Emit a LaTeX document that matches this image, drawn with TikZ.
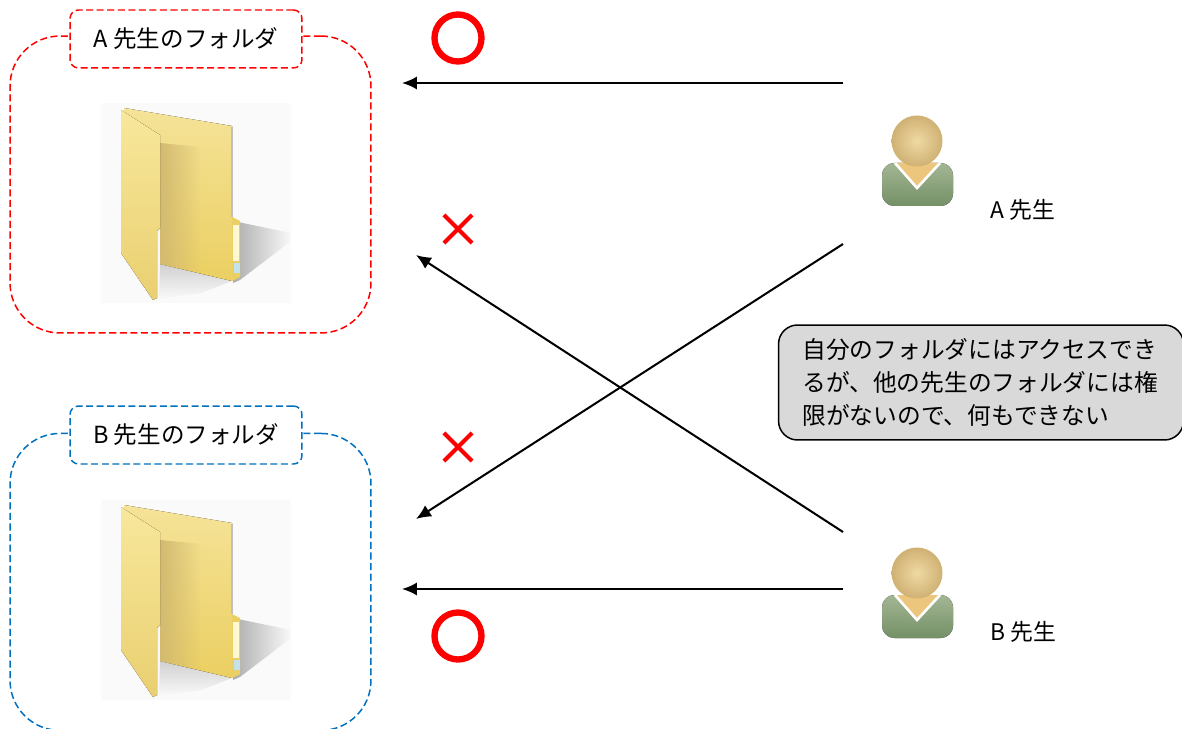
\documentclass[tikz,border=0pt]{standalone}
\usepackage{fontspec}
\setmainfont{Noto Sans CJK JP}
\usetikzlibrary{positioning}
\usetikzlibrary{arrows.meta,shapes.misc,fadings}
\definecolor{fred}{HTML}{FF0000}
\definecolor{fblue}{HTML}{0070C0}
\definecolor{callgray}{HTML}{D9D9D9}
\definecolor{foldtop}{HTML}{F5E398}
\definecolor{foldlow}{HTML}{EBCF62}
\definecolor{foldedge}{HTML}{D2BA70}
\definecolor{foldpale}{HTML}{FFF2A6}
\definecolor{foldupper}{HTML}{F8E89C}
\definecolor{foldfoot}{HTML}{E9CF70}
\definecolor{headin}{HTML}{F0D9A4}
\definecolor{headout}{HTML}{CFB173}
\definecolor{neck}{HTML}{EDC67E}
\definecolor{shirttop}{HTML}{A3B693}
\definecolor{shirtlow}{HTML}{749066}
\tikzset{line/.style={draw, line width=1.15pt, -{Latex[length=8.5pt,width=7.5pt]}}}
\tikzset{
  pics/folder/.style={code={
    \fill [black!2] (0,0) rectangle (190,200);
    % shadow
    \fill [black!32, path fading=east] (132,118) -- (190,130) -- (190,138) -- (139,177) -- (132,180) -- cycle;
    \fill [black!18, path fading=south] (59,161) -- (131,178) -- (100,190) -- (58,196) -- cycle;
    % back
    \fill [top color=foldtop, bottom color=foldlow] (23,5) -- (131,23) -- (131,178) -- (59,161) -- (59,45) -- (23,20) -- cycle;
    \fill [foldedge, path fading=east] (59,40) -- (100,44) -- (100,170) -- (59,161) -- cycle;
    \draw [black!25, line width=.6pt] (131,24) -- (131,114);
    % tab
    \fill [foldlow] (131,114) -- (139,118) -- (139,174) -- (131,178) -- cycle;
    \fill [foldpale!50!white] (132,122) rectangle (138,158);
    \fill [black!30!cyan!25!white] (133,160) rectangle (139,170);
    % front
    \fill [top color=foldupper, middle color=foldpale, bottom color=foldfoot] (20,7) -- (59,32) -- (59,125) -- (56,128) -- (56,195) -- (52,197) -- (20,150) -- cycle;
  }},
  pics/person/.style={code={
    \fill [rounded corners=7, top color=shirttop, bottom color=shirtlow] (-35,22) rectangle (36,65);
    \fill [neck] (-22,22) -- (0,47) -- (23,22) -- cycle;
    \draw [white, line width=1.5pt] (-22,22) -- (0,47) -- (23,22);
    \shade [inner color=headin, outer color=headout] (0,0) circle (25.5);
  }}
}
\begin{document}
\begin{tikzpicture}[x=0.02cm, y=-0.02cm]
\tikzstyle{folderbox} = [rectangle, rounded corners=1cm, dash pattern=on 4pt off 2pt, line width=.85pt, minimum width=7.22cm, minimum height=5.94cm, inner sep=0pt]
\tikzstyle{titlebox} = [rectangle, rounded corners=.17cm, fill=white, dash pattern=on 4pt off 2pt, line width=.85pt, minimum width=4.64cm, minimum height=1.16cm, font=\fontsize{13.4pt}{15pt}\selectfont]
\tikzstyle{okmark} = [circle, draw=fred, line width=3.6pt, minimum size=.94cm, inner sep=0pt]
\tikzstyle{ngmark} = [cross out, draw=fred, line width=2.4pt, minimum size=.48cm, inner sep=0pt]
\tikzstyle{teacher} = [font=\fontsize{13pt}{15pt}\selectfont, inner sep=0pt]

\useasboundingbox (0,0) rectangle (1182,729);
% blocks
    % folder A
    \node [folderbox, draw=fred] (boxA) at (190.5,184.5) {};
    \node [titlebox, draw=fred] (titleA) at (186,39) {A 先生のフォルダ};
    \pic (folderA) at (101,103) {folder};
    % folder B
    \node [folderbox, draw=fblue, below=1.98cm of boxA] (boxB) {};
    \node [titlebox, draw=fblue] (titleB) at (186,435) {B 先生のフォルダ};
    \pic (folderB) at (101,500) {folder};
    % teachers
    \pic (personA) at (917,141) {person};
    \pic (personB) at (917,573) {person};
    \node [teacher] (nameA) at (1023,210) {A 先生};
    \node [teacher] (nameB) at (1023,632) {B 先生};
    % marks
    \node [okmark] (okA) at (458,38) {};
    \node [ngmark] (ngA) at (458,229) {};
    \node [ngmark] (ngB) at (458,447) {};
    \node [okmark] (okB) at (458,636) {};
    % note
    \node [rectangle, rounded corners=.38cm, draw, fill=callgray, line width=.85pt, minimum width=8.1cm, minimum height=2.3cm, inner xsep=.48cm, text width=7.14cm, align=left, font=\fontsize{13.5pt}{19pt}\selectfont] (note) at (981,382.5) {自分のフォルダにはアクセスでき\\るが、他の先生のフォルダには権\\限がないので、何もできない};
    % arrow ends
    \coordinate (startA) at (843,83);
    \coordinate (endA) at (402,83);
    \coordinate (startAB) at (843,244);
    \coordinate (endAB) at (416,519);
    \coordinate (startBA) at (843,532);
    \coordinate (endBA) at (416,255);
    \coordinate (startB) at (843,589);
    \coordinate (endB) at (402,589);
% arrows
    \path [line] (startA) -- (endA);
    \path [line] (startAB) -- (endAB);
    \path [line] (startBA) -- (endBA);
    \path [line] (startB) -- (endB);
\end{tikzpicture}
\end{document}
